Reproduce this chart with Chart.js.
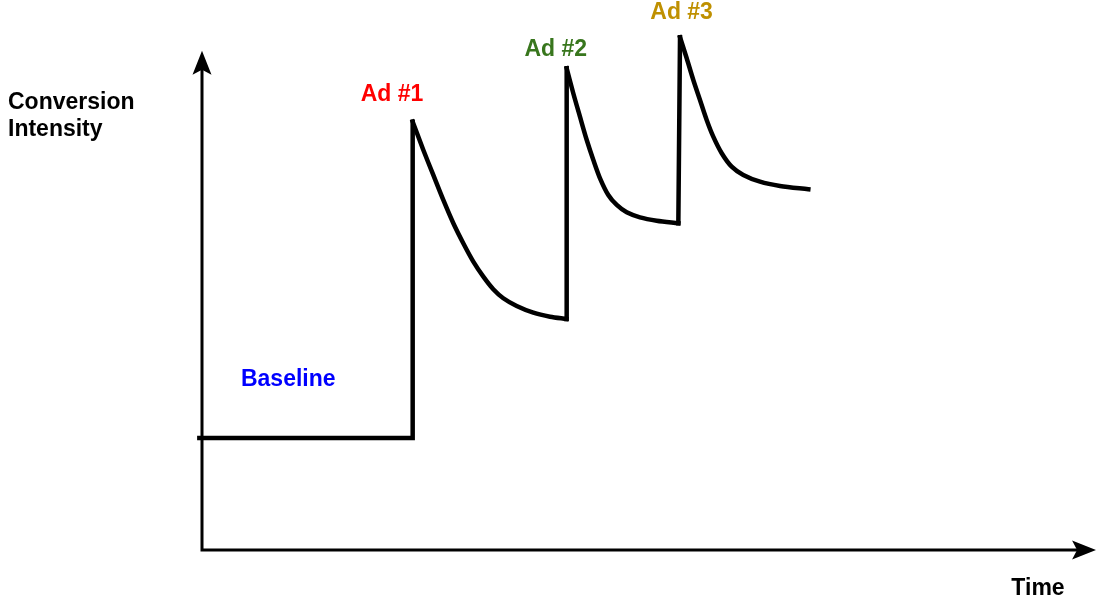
<!DOCTYPE html>
<html>
<head>
<meta charset="utf-8">
<script src="https://cdn.jsdelivr.net/npm/chart.js@4"></script>
<style>
  html, body { margin: 0; padding: 0; background: #fff; }
  #wrap { width: 1096px; height: 603px; }
</style>
</head>
<body>
<div id="wrap"><canvas id="adChart"></canvas></div>
<script>
// flat baseline, then the vertical jumps between ads
const stepTime  = [-0.3, 23.94, 23.94, null, 41.4, 41.44, null, 54.13, 54.32];
const stepLevel = [22.6, 22.6, 86.49, null, 46.65, 97.27, null, 65.97, 103.53];

// decay after each ad
const ad1Time  = [23.94, 25.15, 26.28, 27.42, 28.56, 29.69, 30.83, 31.97, 33.10, 34.24, 35.76, 37.65, 39.55, 41.4];
const ad1Level = [86.49, 80.78, 75.73, 70.68, 65.97, 61.93, 58.22, 55.19, 52.65, 50.83, 49.27, 47.92, 47.11, 46.65];
const ad2Time  = [41.44, 42.19, 42.95, 43.72, 44.47, 45.23, 46.17, 47.13, 48.26, 49.77, 51.67, 54.13];
const ad2Level = [97.27, 92.22, 87.50, 82.79, 78.76, 75.06, 71.69, 69.67, 68.19, 67.18, 66.50, 65.97];
const ad3Time  = [54.32, 55.08, 55.83, 56.59, 57.35, 58.10, 59.06, 60.19, 61.51, 63.41, 65.68, 68.90];
const ad3Level = [103.53, 99.29, 94.91, 90.87, 86.83, 83.46, 80.11, 77.40, 75.73, 74.37, 73.51, 72.84];

// text labels inside the plot
const noteText  = ["Baseline", "Ad #1", "Ad #2", "Ad #3"];
const noteTime  = [9.8, 21.6, 40.2, 54.5];
const noteLevel = [34.4, 92.0, 101.1, 108.5];
const noteColor = ["#0000ff", "#ff0000", "#38761d", "#bf9000"];

function toPoints(xs, ys) {
  return xs.map((x, i) => (x === null ? { x: NaN, y: NaN } : { x: x, y: ys[i] }));
}

function lineSet(xs, ys, smooth) {
  return {
    data: toPoints(xs, ys),
    showLine: true,
    spanGaps: false,
    borderColor: "#000",
    borderWidth: 4.5,
    borderCapStyle: "square",
    borderJoinStyle: "miter",
    pointRadius: 0,
    tension: smooth ? 0.3 : 0,
    clip: false,
  };
}

const FONT = "bold 23px 'Liberation Sans', Arial, sans-serif";

function arrow(ctx, tipX, tipY, dir) {
  // dir: "up" or "right"; stealth style head
  ctx.save();
  ctx.translate(tipX, tipY);
  if (dir === "right") ctx.rotate(Math.PI / 2);
  ctx.beginPath();
  ctx.moveTo(0, 0);
  ctx.lineTo(9.5, 24);
  ctx.lineTo(0, 19);
  ctx.lineTo(-9.5, 24);
  ctx.closePath();
  ctx.fillStyle = "#000";
  ctx.fill();
  ctx.restore();
}

const diagram = {
  id: "diagram",
  beforeDatasetsDraw(chart) {
    const { ctx, scales } = chart;
    const x0 = scales.x.getPixelForValue(0);
    const y0 = scales.y.getPixelForValue(0);
    const yTip = scales.y.getPixelForValue(100.8);
    const xTip = scales.x.getPixelForValue(101.6);
    ctx.save();
    ctx.strokeStyle = "#000";
    ctx.lineWidth = 3;
    ctx.beginPath();
    ctx.moveTo(x0, y0 + 1.5);
    ctx.lineTo(x0, yTip + 12);
    ctx.moveTo(x0 - 1.5, y0);
    ctx.lineTo(xTip - 12, y0);
    ctx.stroke();
    ctx.restore();
    arrow(ctx, x0, yTip, "up");
    arrow(ctx, xTip, y0, "right");
  },
  afterDatasetsDraw(chart) {
    const { ctx, scales } = chart;
    ctx.save();
    ctx.font = FONT;
    ctx.textBaseline = "middle";
    ctx.textAlign = "center";
    noteText.forEach((t, i) => {
      ctx.fillStyle = noteColor[i];
      ctx.fillText(t, scales.x.getPixelForValue(noteTime[i]), scales.y.getPixelForValue(noteLevel[i]));
    });
    ctx.fillStyle = "#000";
    ctx.fillText("Time", 1038, 588.5);
    ctx.textAlign = "left";
    ctx.fillText("Conversion", 8, 102.5);
    ctx.fillText("Intensity", 8, 129.5);
    ctx.restore();
  },
};

new Chart(document.getElementById("adChart"), {
  type: "scatter",
  data: {
    datasets: [
      lineSet(stepTime, stepLevel, false),
      lineSet(ad1Time, ad1Level, true),
      lineSet(ad2Time, ad2Level, true),
      lineSet(ad3Time, ad3Level, true),
    ],
  },
  options: {
    responsive: true,
    maintainAspectRatio: false,
    animation: false,
    layout: { padding: { left: 202, right: 14, top: 30, bottom: 53 } },
    scales: {
      x: { type: "linear", min: 0, max: 100, display: false },
      y: { type: "linear", min: 0, max: 105, display: false },
    },
    plugins: {
      legend: { display: false },
      tooltip: { enabled: false },
    },
  },
  plugins: [diagram],
});
</script>
</body>
</html>
